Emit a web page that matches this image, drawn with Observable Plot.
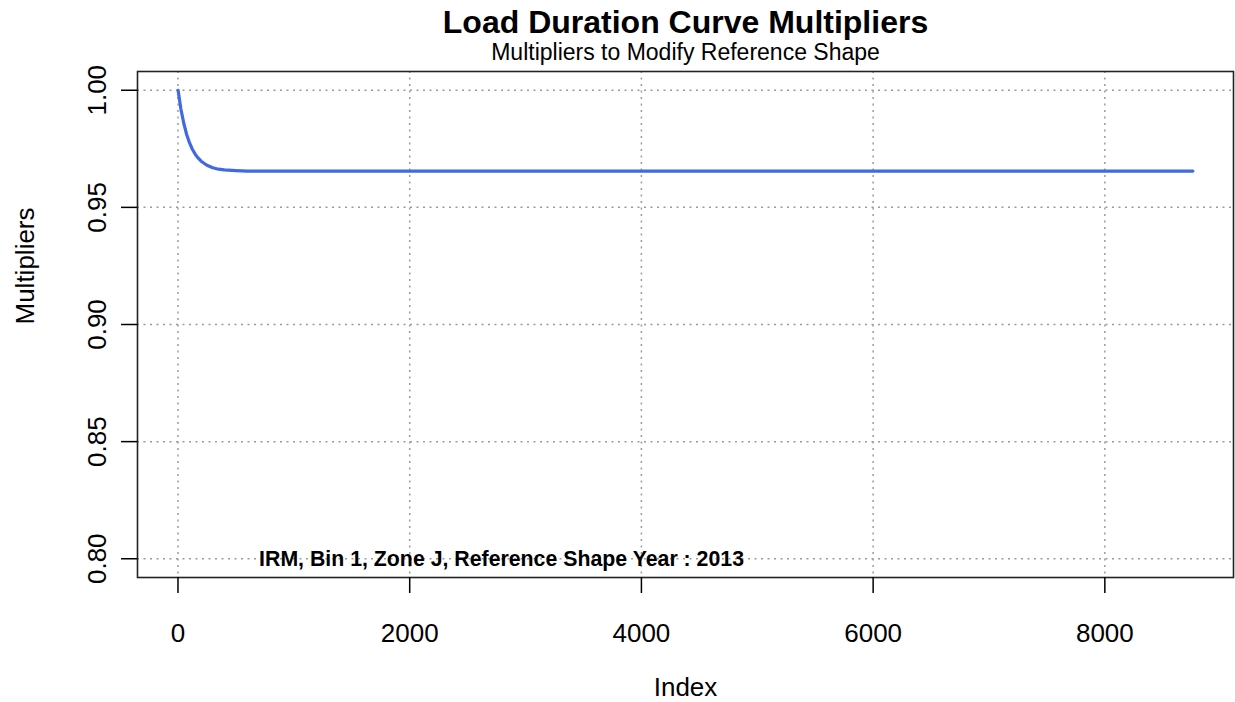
<!DOCTYPE html>
<html>
<head>
<meta charset="utf-8">
<script src="https://cdn.jsdelivr.net/npm/d3@7"></script>
<script src="https://cdn.jsdelivr.net/npm/@observablehq/plot@0.6"></script>
<style>
  html, body { margin: 0; padding: 0; background: #ffffff; overflow: hidden; }
  #chart svg { display: block; }
</style>
</head>
<body>
<div id="chart"></div>
<script>
// ---- Data ----
const index = [1, 25, 50, 75, 100, 125, 150, 175, 200, 250, 300, 350, 400, 500, 600, 8760];
const multipliers = [1.0, 0.9920, 0.9859, 0.9811, 0.9775, 0.9747, 0.9726, 0.9710, 0.9697, 0.9680, 0.9669, 0.9663, 0.9660, 0.9657, 0.9655, 0.9655];
const xTicks = [0, 2000, 4000, 6000, 8000];
const yTicks = [0.80, 0.85, 0.90, 0.95, 1.00];
const titleText = "Load Duration Curve Multipliers";
const subtitleText = "Multipliers to Modify Reference Shape";
const xLabel = "Index";
const yLabel = "Multipliers";
const annotationText = "IRM, Bin 1, Zone J, Reference Shape Year : 2013";
const annotationAt = {x: 700, y: 0.80};

const data = index.map((x, i) => ({x, y: multipliers[i]}));

const gridStyle = {stroke: "#9a9a9a", strokeOpacity: 1, strokeWidth: 1.5, strokeDasharray: "2,4.5"};

const chart = Plot.plot({
  width: 1235,
  height: 702,
  marginTop: 71,
  marginBottom: 125,
  marginLeft: 137,
  marginRight: 2,
  style: {fontFamily: "'Liberation Sans', Arial, sans-serif", background: "#ffffff", color: "#000000"},
  x: {domain: [-349.4, 9110.4]},
  y: {domain: [0.792, 1.008]},
  marks: [
    Plot.gridX(xTicks, gridStyle),
    Plot.gridY(yTicks, gridStyle),
    Plot.line(data, {x: "x", y: "y", stroke: "#4169E1", strokeWidth: 3.2}),
    Plot.frame({stroke: "#222222", strokeWidth: 1.6}),
    Plot.axisX({ticks: xTicks, tickSize: 16, tickPadding: 30, fontSize: 26, strokeWidth: 1.5, tickFormat: d3.format("d"), label: null}),
    Plot.axisY({ticks: yTicks, tickSize: 16, tickPadding: 16, tickRotate: -90, fontSize: 26, strokeWidth: 1.5, tickFormat: d3.format(".2f"), label: null}),
    Plot.text([titleText], {text: d => d, frameAnchor: "top", lineAnchor: "bottom", dy: -39, fontSize: 32, fontWeight: "bold"}),
    Plot.text([subtitleText], {text: d => d, frameAnchor: "top", lineAnchor: "bottom", dy: -12, fontSize: 23}),
    Plot.text([xLabel], {text: d => d, frameAnchor: "bottom", lineAnchor: "bottom", dy: 118, fontSize: 26}),
    Plot.text([yLabel], {text: d => d, frameAnchor: "left", lineAnchor: "bottom", rotate: -90, dx: -104, fontSize: 26}),
    Plot.text([annotationAt], {x: "x", y: "y", text: () => annotationText, textAnchor: "start", lineAnchor: "middle", fontSize: 21.3, fontWeight: "bold"})
  ]
});
document.getElementById("chart").appendChild(chart);
</script>
</body>
</html>
